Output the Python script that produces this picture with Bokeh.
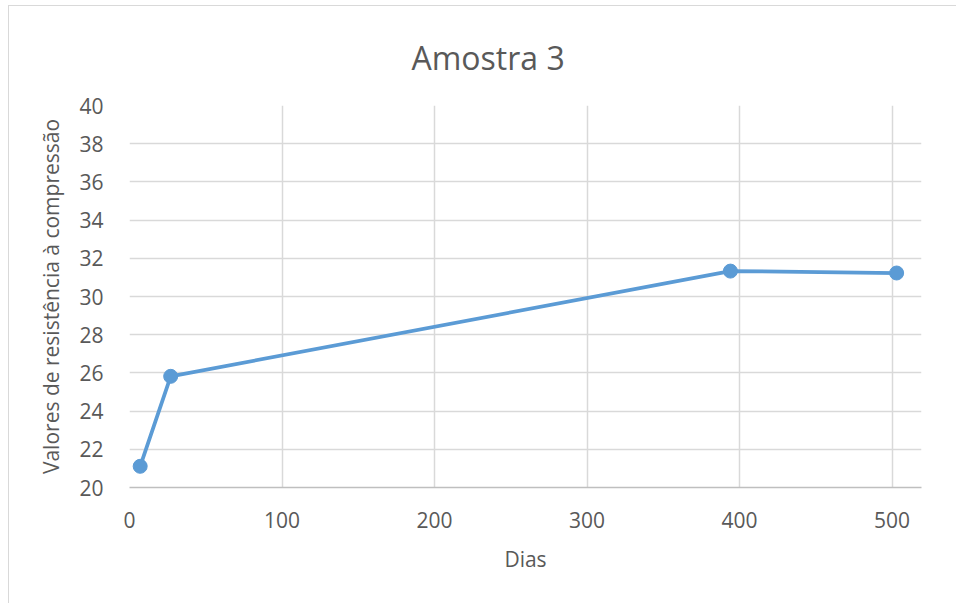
from bokeh.plotting import figure
from bokeh.models import Range1d, FixedTicker
from bokeh.embed import file_html
from bokeh.resources import INLINE

dias = [7, 27, 394, 503]
resistencia = [21.11, 25.82, 31.33, 31.23]
x_ticks = [0, 100, 200, 300, 400, 500]
y_ticks = [20, 22, 24, 26, 28, 30, 32, 34, 36, 38, 40]
titulo = "Amostra 3"

FONT = "Open Sans"
TXT = "#595959"

p = figure(output_backend="svg", toolbar_location=None,
           width=947, height=597,
           frame_width=792, frame_height=382,
           min_border_left=120, min_border_right=35,
           min_border_top=99, min_border_bottom=116,
           x_range=Range1d(0, 519.3), y_range=Range1d(20, 40),
           title=titulo)

p.title.align = "left"
p.title.vertical_align = "bottom"
p.title.text_font = FONT
p.title.text_font_size = "32px"
p.title.text_font_style = "normal"
p.title.text_color = TXT
p.title.offset = 282
p.title.standoff = 53

p.outline_line_color = None
p.border_fill_color = "white"
p.background_fill_color = "white"

p.xaxis.ticker = FixedTicker(ticks=x_ticks)
p.yaxis.ticker = FixedTicker(ticks=y_ticks)
p.xgrid.ticker = FixedTicker(ticks=x_ticks)
p.ygrid.ticker = FixedTicker(ticks=y_ticks)
p.grid.grid_line_color = "#d9d9d9"
p.grid.grid_line_width = 1.5

for ax in (p.xaxis, p.yaxis):
    ax.major_tick_line_color = None
    ax.minor_tick_line_color = None
    ax.major_label_text_font = FONT
    ax.major_label_text_font_size = "21px"
    ax.major_label_text_color = TXT
    ax.axis_label_text_font = FONT
    ax.axis_label_text_font_size = "21px"
    ax.axis_label_text_font_style = "normal"
    ax.axis_label_text_color = TXT

p.xaxis.axis_line_color = "#bfbfbf"
p.xaxis.axis_line_width = 1.5
p.yaxis.axis_line_color = None
p.xaxis.major_label_standoff = 18
p.yaxis.major_label_standoff = 20
p.xaxis.axis_label = "Dias"
p.yaxis.axis_label = "Valores de resistência à compressão"
p.xaxis.axis_label_standoff = 14
p.yaxis.axis_label_standoff = 11

p.line(dias, resistencia, line_color="#5b9bd5", line_width=3.75)
p.scatter(dias, resistencia, size=14, fill_color="#5b9bd5", line_color="#5b9bd5")

p.styles = {"border-left": "1px solid #d9d9d9", "border-top": "1px solid #d9d9d9",
            "margin-left": "8px", "margin-top": "5px"}

open("out.html", "w").write(file_html(p, INLINE))
